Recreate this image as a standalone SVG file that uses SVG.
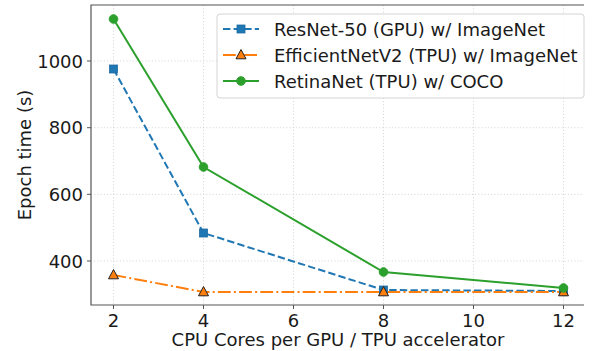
<svg xmlns="http://www.w3.org/2000/svg" width="592" height="351" viewBox="0 0 592 351">
<style>
text{font-family:"DejaVu Sans","Liberation Sans",sans-serif;font-size:18px;fill:#1a1a1a}
.grid{stroke:#d0d0d0;stroke-width:0.8;stroke-dasharray:1.2,2;fill:none}
.spine{stroke:#555;stroke-width:1.2;fill:none}
.tick{stroke:#555;stroke-width:1}
.blue{stroke:#1f77b4;stroke-width:2;fill:none;stroke-dasharray:7.4,3.2}
.orange{stroke:#ff7f0e;stroke-width:2;fill:none;stroke-dasharray:12.8,3.2,2,3.2}
.green{stroke:#2ca02c;stroke-width:2;fill:none}
.sq{fill:#1f77b4;stroke:#1f6aa0;stroke-width:0.8}
.tri{fill:#ff7f0e;stroke:#222;stroke-width:1}
.dot{fill:#2ca02c;stroke:#2ca02c;stroke-width:1}
</style>
<defs>
<rect id="msq" x="-4" y="-4" width="8" height="8" class="sq"/>
<polygon id="mtri" points="0,-5.5 5,3.8 -5,3.8" class="tri"/>
<circle id="mdot" r="4.3" class="dot"/>
</defs>
<rect width="592" height="351" fill="#fff"/>
<g id="grid">
<line class="grid" x1="113.5" y1="5" x2="113.5" y2="305"/>
<line class="grid" x1="203.5" y1="5" x2="203.5" y2="305"/>
<line class="grid" x1="293.5" y1="5" x2="293.5" y2="305"/>
<line class="grid" x1="383.5" y1="5" x2="383.5" y2="305"/>
<line class="grid" x1="473.5" y1="5" x2="473.5" y2="305"/>
<line class="grid" x1="563.5" y1="5" x2="563.5" y2="305"/>
<line class="grid" x1="91" y1="61" x2="584" y2="61"/>
<line class="grid" x1="91" y1="127.7" x2="584" y2="127.7"/>
<line class="grid" x1="91" y1="194.3" x2="584" y2="194.3"/>
<line class="grid" x1="91" y1="261" x2="584" y2="261"/>
</g>
<g id="axes">
<path class="spine" d="M584,5 H91 V305 H584"/>
<g class="tick">
<line x1="113.5" y1="305" x2="113.5" y2="309"/>
<line x1="203.5" y1="305" x2="203.5" y2="309"/>
<line x1="293.5" y1="305" x2="293.5" y2="309"/>
<line x1="383.5" y1="305" x2="383.5" y2="309"/>
<line x1="473.5" y1="305" x2="473.5" y2="309"/>
<line x1="563.5" y1="305" x2="563.5" y2="309"/>
<line x1="87" y1="61" x2="91" y2="61"/>
<line x1="87" y1="127.7" x2="91" y2="127.7"/>
<line x1="87" y1="194.3" x2="91" y2="194.3"/>
<line x1="87" y1="261" x2="91" y2="261"/>
</g>
<g text-anchor="middle">
<text x="113.5" y="327">2</text>
<text x="203.5" y="327">4</text>
<text x="293.5" y="327">6</text>
<text x="383.5" y="327">8</text>
<text x="473.5" y="327">10</text>
<text x="563.5" y="327">12</text>
<text x="338" y="346">CPU Cores per GPU / TPU accelerator</text>
<text transform="translate(31,155) rotate(-90)">Epoch time (s)</text>
</g>
<g text-anchor="end">
<text x="83" y="67.5">1000</text>
<text x="83" y="134.2">800</text>
<text x="83" y="200.8">600</text>
<text x="83" y="267.5">400</text>
</g>
</g>
<g id="connectors">
<polyline id="resnet-line" class="blue" points="113.5,69 203.5,233 383.5,290 563.5,291"/>
<polyline id="effnet-line" class="orange" points="113.5,275 203.5,292 383.5,292 563.5,292"/>
<polyline id="retina-line" class="green" points="113.5,19 203.5,167 383.5,272 563.5,288"/>
</g>
<g id="resnet-markers">
<use href="#msq" x="113.5" y="69"/><use href="#msq" x="203.5" y="233"/><use href="#msq" x="383.5" y="290"/><use href="#msq" x="563.5" y="291"/>
</g>
<g id="effnet-markers">
<use href="#mtri" x="113.5" y="275"/><use href="#mtri" x="203.5" y="292"/><use href="#mtri" x="383.5" y="292"/><use href="#mtri" x="563.5" y="292"/>
</g>
<g id="retina-markers">
<use href="#mdot" x="113.5" y="19"/><use href="#mdot" x="203.5" y="167"/><use href="#mdot" x="383.5" y="272"/><use href="#mdot" x="563.5" y="288"/>
</g>
<g id="legend">
<rect x="217" y="14" width="367" height="84" rx="3" fill="#fff" fill-opacity="0.85" stroke="#d4d4d4" stroke-width="1"/>
<line class="blue" x1="223" y1="29" x2="259" y2="29" stroke-dasharray="5.5,3"/>
<use href="#msq" x="241" y="29"/>
<text x="274" y="35.5">ResNet-50 (GPU) w/ ImageNet</text>
<line class="orange" x1="223" y1="55" x2="259" y2="55" stroke-dasharray="12,3,2,3"/>
<use href="#mtri" x="241" y="55" style="stroke:#ff7f0e"/>
<text x="274" y="61.5">EfficientNetV2 (TPU) w/ ImageNet</text>
<line class="green" x1="223" y1="81" x2="259" y2="81"/>
<use href="#mdot" x="241" y="81"/>
<text x="274" y="87.5">RetinaNet (TPU) w/ COCO</text>
</g>
</svg>
